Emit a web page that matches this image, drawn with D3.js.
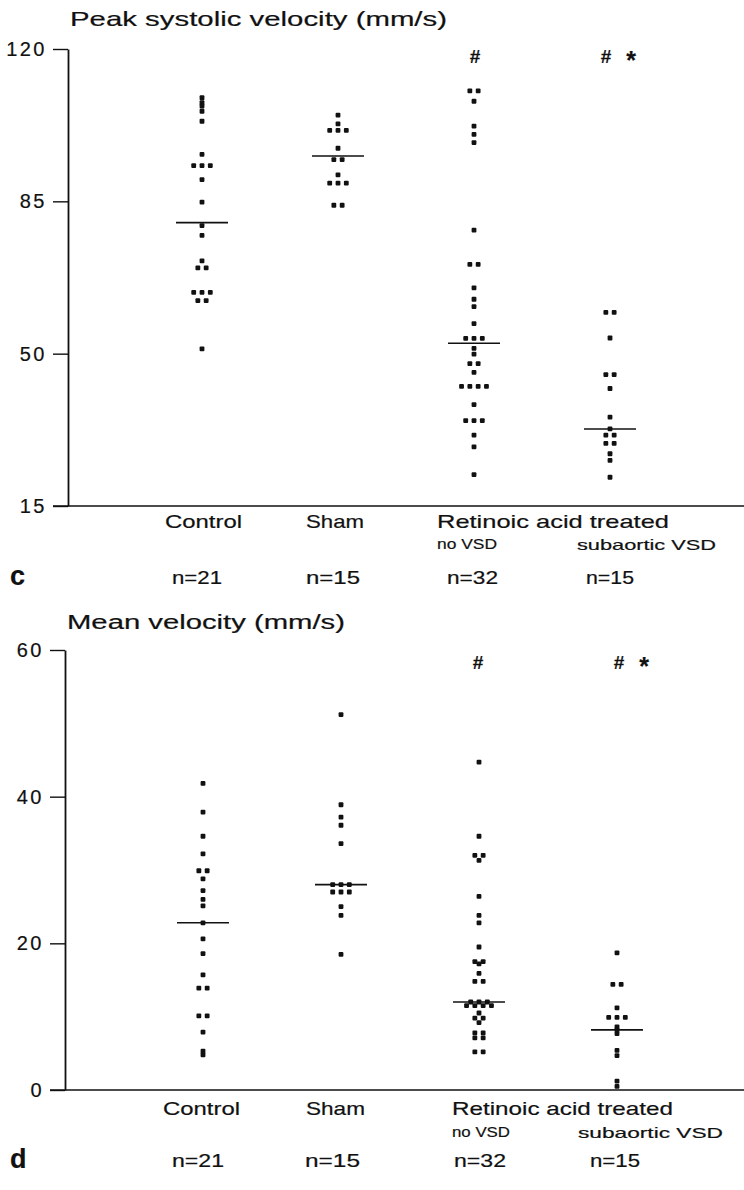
<!DOCTYPE html>
<html>
<head>
<meta charset="utf-8">
<script src="https://cdn.jsdelivr.net/npm/d3@7"></script>
<style>
  body { margin: 0; background: #fff; }
  text { font-family: "Liberation Sans", Arial, Helvetica, sans-serif; fill: #111; stroke: #111; stroke-width: 0.2px; }
</style>
</head>
<body>
<svg id="chart"></svg>
<script>
// groups along the x axis
const groups = ["Control", "Sham", "RA no VSD", "RA subaortic VSD"];
const nLabels = ["n=21", "n=15", "n=32", "n=15"];

// panel c : peak systolic velocity (mm/s)
const peakTicks = [15, 50, 85, 120];
const peakControl = [108.8, 107.7, 106.9, 105.7, 103.4, 95.8, 93.2, 93.2, 93.2, 90.0, 84.8, 79.4, 77.2, 71.3, 69.7, 69.7, 64.1, 64.1, 64.1, 62.2, 62.2, 51.1];
const peakSham = [104.8, 102.8, 101.3, 101.3, 101.3, 97.2, 94.6, 94.6, 91.1, 89.2, 89.2, 89.2, 84.1, 84.1];
const peakNoVSD = [110.4, 110.4, 108.0, 102.3, 100.4, 98.5, 78.4, 70.5, 70.5, 65.1, 62.5, 60.8, 56.9, 53.5, 53.5, 53.5, 51.2, 49.9, 47.7, 47.7, 45.7, 42.5, 42.5, 42.5, 42.5, 38.3, 34.6, 34.6, 34.6, 31.3, 28.6, 22.2];
const peakSubVSD = [59.5, 59.5, 53.6, 45.2, 45.2, 42.0, 35.4, 32.7, 31.3, 31.3, 29.4, 29.4, 27.0, 25.5, 21.6];
const peakMedians = [80.1, 95.4, 52.4, 32.7];

// panel d : mean velocity (mm/s)
const meanTicks = [0, 20, 40, 60];
const meanControl = [41.8, 37.9, 34.6, 32.2, 29.9, 29.9, 28.8, 27.2, 26.0, 25.1, 22.8, 20.6, 18.6, 15.7, 13.9, 13.9, 10.1, 10.1, 7.9, 5.3, 4.8];
const meanSham = [51.2, 38.9, 37.2, 36.1, 33.6, 28.0, 28.0, 28.0, 27.0, 27.0, 27.0, 25.0, 23.8, 18.5];
const meanNoVSD = [44.7, 34.6, 32.0, 32.0, 31.3, 26.4, 23.8, 22.8, 19.5, 17.5, 17.5, 17.2, 15.9, 14.8, 14.8, 12.0, 12.0, 12.0, 11.5, 11.5, 11.5, 11.5, 10.5, 9.8, 9.8, 9.2, 7.8, 7.8, 7.1, 7.1, 5.2, 5.2];
const meanSubVSD = [18.7, 14.4, 14.4, 11.2, 9.9, 9.9, 9.9, 8.6, 8.2, 7.7, 5.4, 4.7, 1.2, 0.5];
const meanMedians = [22.8, 28.0, 12.0, 8.2];

// significance marks above the treated groups
const sigHash = ["", "", "#", "#"];
const sigStar = ["", "", "", "*"];

const w = 744;
const h = 1190;
const dotSize = 4.8;
const dotGap = 8.3;
const medianHalf = 26;

let svg = d3.select("#chart")
            .attr("width", w)
            .attr("height", h)
            .attr("viewBox", "0 0 " + w + " " + h);

// put tied values side by side, centred on the group
function spread(values) {
  let counts = {};
  values.forEach(v => counts[v] = (counts[v] || 0) + 1);
  let seen = {};
  return values.map(v => {
    seen[v] = seen[v] || 0;
    let i = seen[v]++;
    return { v: v, off: (i - (counts[v] - 1) / 2) * dotGap };
  });
}

function drawPanel(p) {
  let g = svg.append("g");

  let yScale = d3.scaleLinear().domain(p.domain).range([p.yBottom, p.yTop]);
  let xScale = d3.scalePoint().domain(groups).range(p.xRange);

  // y axis, ticks pointing left
  let yAxis = d3.axisLeft(yScale).tickValues(p.ticks).tickSize(15).tickPadding(6).tickSizeOuter(0);
  let ax = g.append("g")
            .attr("transform", "translate(" + p.axisX + ",0)")
            .call(yAxis);
  ax.select(".domain").attr("stroke", "#111").attr("stroke-width", 1.8);
  ax.selectAll(".tick line").attr("stroke", "#111").attr("stroke-width", 1.4);
  ax.selectAll(".tick text")
    .attr("fill", "#111")
    .style("font-family", "'Liberation Sans', Arial, sans-serif")
    .style("font-size", "20px")
    .style("letter-spacing", "2.5px");

  // baseline running across to the right edge
  g.append("line")
   .attr("x1", p.axisX - 15).attr("x2", w)
   .attr("y1", p.yBottom).attr("y2", p.yBottom)
   .attr("stroke", "#111").attr("stroke-width", 1.6);

  // title
  g.append("text")
   .attr("x", p.axisX + 2)
   .attr("y", p.titleY)
   .attr("font-size", p.titleSize + "px")
   .attr("textLength", p.titleLen)
   .attr("lengthAdjust", "spacingAndGlyphs")
   .text(p.title);

  // dots
  p.series.forEach((vals, gi) => {
    let cx = xScale(groups[gi]);
    g.selectAll(".dot" + gi)
     .data(spread(vals))
     .enter()
     .append("rect")
     .attr("class", "dot" + gi)
     .attr("x", d => cx + d.off - dotSize / 2)
     .attr("y", d => yScale(d.v) - dotSize / 2)
     .attr("width", dotSize)
     .attr("height", dotSize)
     .attr("rx", 1)
     .attr("fill", "#111");
  });

  // median lines
  g.selectAll(".median")
   .data(p.medians)
   .enter()
   .append("line")
   .attr("class", "median")
   .attr("x1", (d, i) => xScale(groups[i]) - medianHalf)
   .attr("x2", (d, i) => xScale(groups[i]) + medianHalf)
   .attr("y1", d => yScale(d))
   .attr("y2", d => yScale(d))
   .attr("stroke", "#111")
   .attr("stroke-width", 1.6);

  // # and * marks
  groups.forEach((grp, i) => {
    let cx = xScale(grp);
    if (sigHash[i]) {
      g.append("text").attr("x", cx + p.hashShift[i]).attr("y", p.sigY)
       .attr("text-anchor", "middle").attr("font-size", "19px").attr("font-weight", "bold")
       .text(sigHash[i]);
    }
    if (sigStar[i]) {
      g.append("text").attr("x", cx + p.hashShift[i] + 25).attr("y", p.sigY + 6)
       .attr("text-anchor", "middle").attr("font-size", "25px").attr("font-weight", "bold")
       .text(sigStar[i]);
    }
  });

  // category labels under the axis
  p.catLabels.forEach(c => {
    g.append("text")
     .attr("x", c.x).attr("y", c.y)
     .attr("font-size", c.size + "px")
     .attr("textLength", c.len)
     .attr("lengthAdjust", "spacingAndGlyphs")
     .text(c.text);
  });

  // n per group
  nLabels.forEach((t, i) => {
    g.append("text")
     .attr("x", p.nX[i]).attr("y", p.nY)
     .attr("font-size", "18px")
     .attr("textLength", p.nLen[i])
     .attr("lengthAdjust", "spacingAndGlyphs")
     .text(t);
  });

  // panel letter
  g.append("text")
   .attr("x", 10).attr("y", p.nY + 1)
   .attr("font-size", "27px")
   .attr("font-weight", "bold")
   .text(p.letter);
}

drawPanel({
  domain: [15, 120], ticks: peakTicks,
  yTop: 49, yBottom: 506, axisX: 68, xRange: [202, 610],
  title: "Peak systolic velocity (mm/s)", titleY: 26, titleSize: 21, titleLen: 377,
  series: [peakControl, peakSham, peakNoVSD, peakSubVSD], medians: peakMedians,
  sigY: 63, hashShift: [0, 0, 1, -4],
  catLabels: [
    { text: "Control", x: 165, y: 528, size: 19, len: 77 },
    { text: "Sham", x: 306, y: 528, size: 19, len: 58 },
    { text: "Retinoic acid treated", x: 437, y: 528, size: 19, len: 232 },
    { text: "no VSD", x: 437, y: 549, size: 15, len: 60 },
    { text: "subaortic VSD", x: 577, y: 550, size: 15, len: 139 }
  ],
  nX: [172, 306, 447, 586], nLen: [50, 54, 51, 48], nY: 584,
  letter: "c"
});

drawPanel({
  domain: [0, 60], ticks: meanTicks,
  yTop: 650, yBottom: 1090, axisX: 65, xRange: [203, 617],
  title: "Mean velocity (mm/s)", titleY: 629, titleSize: 20, titleLen: 278,
  series: [meanControl, meanSham, meanNoVSD, meanSubVSD], medians: meanMedians,
  sigY: 669, hashShift: [0, 0, -1, 2],
  catLabels: [
    { text: "Control", x: 163, y: 1115, size: 19, len: 77 },
    { text: "Sham", x: 306, y: 1115, size: 19, len: 59 },
    { text: "Retinoic acid treated", x: 452, y: 1115, size: 19, len: 221 },
    { text: "no VSD", x: 452, y: 1137, size: 15, len: 58 },
    { text: "subaortic VSD", x: 578, y: 1138, size: 15, len: 145 }
  ],
  nX: [172, 305, 454, 590], nLen: [52, 55, 52, 50], nY: 1167,
  letter: "d"
});
</script>
</body>
</html>
